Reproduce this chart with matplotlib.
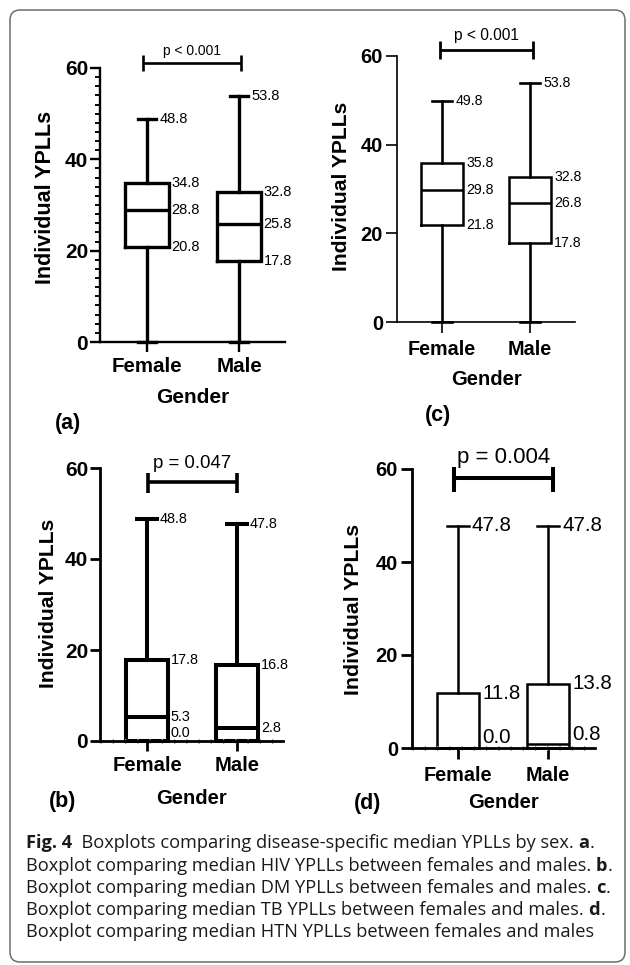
import matplotlib
matplotlib.use('Agg')
import matplotlib.pyplot as plt
from matplotlib.patches import FancyBboxPatch
from matplotlib.transforms import IdentityTransform
from matplotlib.ticker import MultipleLocator

plt.rcParams['font.family'] = ['Liberation Sans', 'DejaVu Sans']

W, H = 630, 965
fig = plt.figure(figsize=(W / 100, H / 100), dpi=100)

# ---------------- data ----------------
groups = ['Female', 'Male']
positions = [1, 2]
y_ticks = [0, 20, 40, 60]
xlabel = 'Gender'
ylabel = 'Individual YPLLs'

# (a) HIV
hiv_min = [0.0, 0.0]
hiv_q1 = [20.8, 17.8]
hiv_med = [28.8, 25.8]
hiv_q3 = [34.8, 32.8]
hiv_max = [48.8, 53.8]
hiv_p = 'p < 0.001'

# (b) DM
dm_min = [0.0, 0.0]
dm_q1 = [0.0, 0.0]
dm_med = [5.3, 2.8]
dm_q3 = [17.8, 16.8]
dm_max = [48.8, 47.8]
dm_p = 'p = 0.047'

# (c) TB
tb_min = [0.0, 0.0]
tb_q1 = [21.8, 17.8]
tb_med = [29.8, 26.8]
tb_q3 = [35.8, 32.8]
tb_max = [49.8, 53.8]
tb_p = 'p < 0.001'

# (d) HTN
htn_min = [0.0, 0.0]
htn_q1 = [0.0, 0.0]
htn_med = [0.0, 0.8]
htn_q3 = [11.8, 13.8]
htn_max = [47.8, 47.8]
htn_p = 'p = 0.004'

# which values are printed next to each box
all_keys = ['max', 'q3', 'med', 'q1']
hiv_keys = [all_keys, all_keys]
tb_keys = [all_keys, all_keys]
dm_keys = [all_keys, ['max', 'q3', 'med']]
htn_keys = [['max', 'q3', 'med'], ['max', 'q3', 'med']]

caption_lines = [
    [('Fig. 4', True), ('  Boxplots comparing disease-specific median YPLLs by sex. ', False), ('a', True), ('.', False)],
    [('Boxplot comparing median HIV YPLLs between females and males. ', False), ('b', True), ('.', False)],
    [('Boxplot comparing median DM YPLLs between females and males. ', False), ('c', True), ('.', False)],
    [('Boxplot comparing median TB YPLLs between females and males. ', False), ('d', True), ('.', False)],
    [('Boxplot comparing median HTN YPLLs between females and males', False)],
]


def px_rect(x0, y0, x1, y1):
    return [x0 / W, 1 - y1 / H, (x1 - x0) / W, (y1 - y0) / H]


def draw_panel(st, mins, q1s, meds, q3s, maxs, keys, ptext, letter):
    ax = fig.add_axes(px_rect(*st['rect']))
    stats = [dict(whislo=mins[i], q1=q1s[i], med=meds[i], q3=q3s[i],
                  whishi=maxs[i], fliers=[]) for i in range(len(groups))]
    art = ax.bxp(stats, positions=positions, widths=st['bw'],
                 capwidths=st['cw'], showfliers=False, manage_ticks=False,
                 boxprops=dict(color='black', linewidth=st['blw'], solid_joinstyle='miter'),
                 whiskerprops=dict(color='black', linewidth=st['wlw']),
                 capprops=dict(color='black', linewidth=st['wlw']),
                 medianprops=dict(color='black', linewidth=st['blw']))
    for lst in art.values():
        for a in lst:
            a.set_clip_on(False)
    ax.set_xlim(*st['xlim'])
    ax.set_ylim(0, 60)
    for s in ['top', 'right']:
        ax.spines[s].set_visible(False)
    for s in ['left', 'bottom']:
        ax.spines[s].set_linewidth(st['slw'])
        ax.spines[s].set_zorder(3)
    ax.set_yticks(y_ticks, [str(t) for t in y_ticks], fontsize=st['ytfs'], fontweight='bold')
    ax.set_xticks(positions, groups, fontsize=st['xtfs'], fontweight='bold')
    ax.tick_params(axis='y', length=st['tl'], width=st['slw'], pad=st['ypad'])
    ax.tick_params(axis='x', length=st['tl'], width=st['slw'], pad=st['xpad'])
    if st.get('minor'):
        ax.yaxis.set_minor_locator(MultipleLocator(2))
        ax.tick_params(axis='y', which='minor', length=3.5, width=st['slw'] * 0.8)
    if st.get('dots'):
        ax.axhline(0, color='#9a9a9a', lw=3.6, ls=(0, (0.25, 2.2)), zorder=2.9, clip_on=False)
    ax.set_ylabel(ylabel, fontsize=st['ylfs'], fontweight='bold')
    ax.yaxis.set_label_coords(*st['ylc'])
    ax.yaxis.label.set_va('center')
    ax.set_xlabel(xlabel, fontsize=st['xlfs'], fontweight='bold')
    ax.xaxis.set_label_coords(*st['xlc'])
    ax.xaxis.label.set_va('center')

    vals = {'max': maxs, 'q3': q3s, 'med': meds, 'q1': q1s}
    for i, klist in enumerate(keys):
        for k in klist:
            v = vals[k][i]
            half = st['cw'] / 2 if k == 'max' else st['bw'] / 2
            if v < 1.5:
                va, dy = 'bottom', st['lowdy']
            else:
                va, dy = 'center', 0
            ax.annotate(f'{v:.1f}', (positions[i] + half, v), xytext=(2.2, dy),
                        textcoords='offset points', fontsize=st['afs'],
                        ha='left', va=va, annotation_clip=False)

    x1, x2 = st['bx']
    yb, ylo, yhi = st['by']
    kw = dict(color='black', lw=st['plw'], clip_on=False, solid_capstyle='butt')
    ax.plot([x1, x2], [yb, yb], **kw)
    ax.plot([x1, x1], [ylo, yhi], **kw)
    ax.plot([x2, x2], [ylo, yhi], **kw)
    ax.text((x1 + x2) / 2, st['pty'], ptext, ha='center', va='center',
            fontsize=st['pfs'], clip_on=False)

    lx, ly = st['letter_xy']
    fig.text(lx / W, 1 - ly / H, f'({letter})', fontsize=15.5, fontweight='bold',
             ha='center', va='center')
    return ax


style_a = dict(rect=(100, 68, 285, 342), xlim=(0.489, 2.5), bw=0.47, cw=0.2,
               blw=2.4, wlw=2.4, slw=1.7, tl=7, ypad=1.5, xpad=4,
               ytfs=15, xtfs=14.8, ylfs=15.5, xlfs=15, afs=10.5, pfs=10,
               ylc=(-0.297, 0.529), xlc=(0.5, -0.204), minor=True, dots=False,
               lowdy=1, bx=(0.957, 2.02), by=(61.1, 59.4, 62.8), plw=1.9, pty=63.8,
               letter_xy=(68, 423))
style_c = dict(rect=(397, 56, 575, 322), xlim=(0.489, 2.51), bw=0.48, cw=0.23,
               blw=1.8, wlw=1.9, slw=1.2, tl=8, ypad=2, xpad=5,
               ytfs=14.5, xtfs=14.2, ylfs=15.2, xlfs=14.5, afs=10.2, pfs=11.2,
               ylc=(-0.309, 0.508), xlc=(0.5, -0.218), minor=False, dots=False,
               lowdy=1, bx=(0.98, 2.03), by=(61.35, 59.4, 63.3), plw=2.0, pty=64.6,
               letter_xy=(438, 415))
style_b = dict(rect=(100, 468, 283, 741), xlim=(0.478, 2.51), bw=0.46, cw=0.22,
               blw=2.9, wlw=2.9, slw=2.0, tl=7, ypad=1.5, xpad=4,
               ytfs=15, xtfs=14.6, ylfs=15.2, xlfs=14.5, afs=10.4, pfs=13.4,
               ylc=(-0.284, 0.505), xlc=(0.5, -0.209), minor=False, dots=True,
               lowdy=0.5, bx=(1.01, 2.0), by=(56.9, 54.5, 58.9), plw=2.6, pty=61.0,
               letter_xy=(63, 801))
style_d = dict(rect=(412, 469, 595, 748), xlim=(0.489, 2.52), bw=0.47, cw=0.24,
               blw=1.8, wlw=1.8, slw=2.0, tl=8, ypad=2, xpad=5,
               ytfs=14.5, xtfs=14.3, ylfs=15.3, xlfs=14.5, afs=14.8, pfs=16,
               ylc=(-0.317, 0.498), xlc=(0.5, -0.197), minor=False, dots=True,
               lowdy=0.5, bx=(0.956, 2.056), by=(58.1, 55.0, 60.4), plw=2.9, pty=62.5,
               letter_xy=(368, 803))

draw_panel(style_a, hiv_min, hiv_q1, hiv_med, hiv_q3, hiv_max, hiv_keys, hiv_p, 'a')
draw_panel(style_c, tb_min, tb_q1, tb_med, tb_q3, tb_max, tb_keys, tb_p, 'c')
draw_panel(style_b, dm_min, dm_q1, dm_med, dm_q3, dm_max, dm_keys, dm_p, 'b')
draw_panel(style_d, htn_min, htn_q1, htn_med, htn_q3, htn_max, htn_keys, htn_p, 'd')

# ---------------- frame ----------------
frame = FancyBboxPatch((10, H - 962), 615, 952,
                       boxstyle='round,pad=0,rounding_size=10',
                       transform=IdentityTransform(), fill=False,
                       edgecolor='#6e6e6e', linewidth=1.1)
fig.add_artist(frame)

# ---------------- caption ----------------
cap_font = ['Open Sans', 'DejaVu Sans']
renderer = fig.canvas.get_renderer()
probe = fig.text(0, 0, caption_lines[4][0][0], fontsize=10, family=cap_font,
                 transform=IdentityTransform())
w10 = probe.get_window_extent(renderer).width
probe.remove()
cap_fs = 10 * 569 / w10

baselines = [848, 871, 893, 915, 937]
for line, yb in zip(caption_lines, baselines):
    x = 26
    for txt, bold in line:
        t = fig.text(x, H - yb, txt, fontsize=cap_fs, family=cap_font,
                     fontweight='bold' if bold else 'normal',
                     ha='left', va='baseline', color='#1a1a1a',
                     transform=IdentityTransform())
        x += t.get_window_extent(renderer).width

fig.savefig('out.png', dpi=100)
